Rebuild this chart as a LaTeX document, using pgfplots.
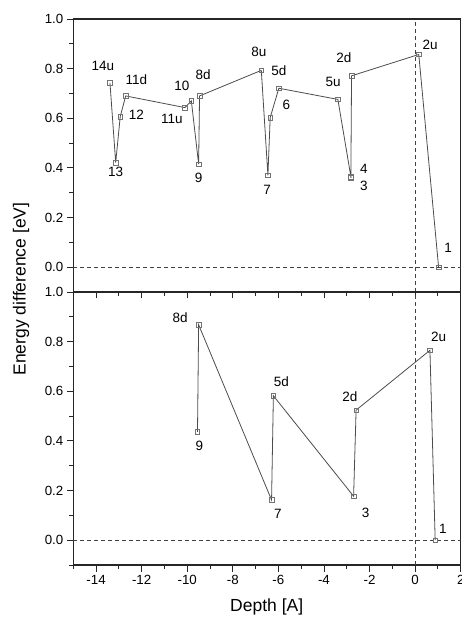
\documentclass[border=0pt]{standalone}
\usepackage{pgfplots}
\pgfplotsset{compat=1.18}
\usepackage{fontspec}
\setmainfont{Liberation Sans}
\definecolor{lncol}{gray}{0.3}
\definecolor{mkcol}{gray}{0.45}
\newcommand{\lf}{\fontsize{13.5}{15}\selectfont}
\newcommand{\tf}{\fontsize{13.3}{15}\selectfont}
\pgfplotsset{
  panel/.style={
    scale only axis, width=387.4pt, height=273pt,
    xmin=-15, xmax=2, ymin=-0.1, ymax=1.0,
    xtick={-14,-12,-10,-8,-6,-4,-2,0,2},
    minor xtick={-15,-13,-11,-9,-7,-5,-3,-1,1},
    ytick={0,0.2,0.4,0.6,0.8,1.0},
    minor ytick={-0.1,0.1,0.3,0.5,0.7,0.9},
    yticklabel style={/pgf/number format/.cd,fixed,fixed zerofill,precision=1},
    /pgf/number format/assume math mode=true,
    tick align=outside, xtick pos=bottom, ytick pos=left,
    major tick length=6.5pt, minor tick length=4pt,
    every tick/.style={black!85, line width=0.9pt},
    axis line style={black!85, line width=1.2pt},
    tick label style={font=\tf},
    clip=false,
  },
  dat/.style={lncol, line width=0.8pt, mark=square, mark size=2.3pt,
    mark options={draw=mkcol, fill=white, line width=0.6pt, solid}},
  ref/.style={black!75, dashed, line width=0.8pt, dash pattern=on 4pt off 3pt},
}
\begin{document}
\begin{tikzpicture}
% top panel
\begin{axis}[panel, at={(0,273pt)}, anchor=south west, xticklabels={}]
\addplot[ref] coordinates {(-15,0) (2,0)};
\addplot[ref] coordinates {(0,-0.1) (0,1.0)};
\addplot[dat] coordinates {
(-13.39,0.742) (-13.14,0.421) (-12.94,0.607) (-12.70,0.690)
(-10.10,0.643) (-9.82,0.670) (-9.50,0.415) (-9.46,0.690)
(-6.75,0.793) (-6.46,0.370) (-6.36,0.603) (-5.98,0.721)
(-3.39,0.676) (-2.82,0.365) (-2.82,0.360) (-2.79,0.771)
(0.16,0.857) (1.03,0.0)};
\node[font=\lf] at (axis cs:-13.70,0.812) {14u};
\node[font=\lf] at (axis cs:-13.14,0.384) {13};
\node[font=\lf] at (axis cs:-12.23,0.615) {12};
\node[font=\lf] at (axis cs:-12.23,0.757) {11d};
\node[font=\lf] at (axis cs:-10.23,0.730) {10};
\node[font=\lf] at (axis cs:-10.67,0.598) {11u};
\node[font=\lf] at (axis cs:-9.30,0.774) {8d};
\node[font=\lf] at (axis cs:-9.50,0.359) {9};
\node[font=\lf] at (axis cs:-6.86,0.866) {8u};
\node[font=\lf] at (axis cs:-5.98,0.793) {5d};
\node[font=\lf] at (axis cs:-5.65,0.656) {6};
\node[font=\lf] at (axis cs:-6.49,0.312) {7};
\node[font=\lf] at (axis cs:-3.60,0.748) {5u};
\node[font=\lf] at (axis cs:-3.13,0.845) {2d};
\node[font=\lf] at (axis cs:-2.25,0.397) {4};
\node[font=\lf] at (axis cs:-2.25,0.326) {3};
\node[font=\lf] at (axis cs:0.66,0.895) {2u};
\node[font=\lf] at (axis cs:1.45,0.078) {1};
\end{axis}
% bottom panel
\begin{axis}[panel, at={(0,0)}, anchor=south west]
\addplot[ref] coordinates {(-15,0) (2,0)};
\addplot[ref] coordinates {(0,-0.1) (0,1.0)};
\addplot[dat] coordinates {
(-9.55,0.436) (-9.50,0.868) (-6.30,0.162) (-6.22,0.582)
(-2.70,0.177) (-2.59,0.524) (0.65,0.765) (0.88,0.0)};
\node[font=\lf] at (axis cs:-10.31,0.896) {8d};
\node[font=\lf] at (axis cs:-9.47,0.381) {9};
\node[font=\lf] at (axis cs:-5.87,0.637) {5d};
\node[font=\lf] at (axis cs:-2.86,0.579) {2d};
\node[font=\lf] at (axis cs:1.03,0.818) {2u};
\node[font=\lf] at (axis cs:-6.02,0.107) {7};
\node[font=\lf] at (axis cs:-2.17,0.110) {3};
\node[font=\lf] at (axis cs:1.22,0.047) {1};
\end{axis}
\node[font=\fontsize{17.5}{19}\selectfont] at (193.4pt,-42pt) {Depth [A]};
\node[font=\fontsize{17.5}{19}\selectfont, rotate=90] at (-52.3pt,276pt) {Energy difference [eV]};
\pgfresetboundingbox
\path[use as bounding box] (-73.3pt,-53pt) rectangle (388.7pt,565pt);
\end{tikzpicture}
\end{document}
